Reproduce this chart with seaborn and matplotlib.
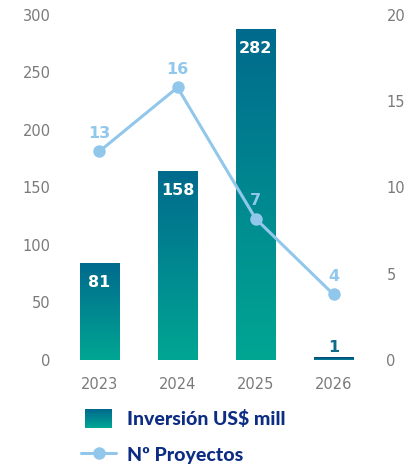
import numpy as np
import pandas as pd
import matplotlib
matplotlib.use('Agg')
import matplotlib.pyplot as plt
import seaborn as sns
from matplotlib.colors import LinearSegmentedColormap
from matplotlib.patches import Rectangle
from matplotlib.lines import Line2D
from matplotlib.legend_handler import HandlerBase

# Data (bar heights / marker heights as drawn in the picture, labels as printed)
years = ['2023', '2024', '2025', '2026']
inversion = [84.6, 164.3, 287.8, 2.3]
inversion_labels = ['81', '158', '282', '1']
proyectos = [12.1, 15.8, 8.2, 3.8]
proyectos_labels = ['13', '16', '7', '4']

sns.set_style('white')
plt.rcParams['font.family'] = ['Lato', 'DejaVu Sans']

tick_color = '#7a7a7a'
line_color = '#92c7ec'
navy = '#0d2d84'
grad = LinearSegmentedColormap.from_list('grad', ['#00a693', '#006a8d'])
grad_small = LinearSegmentedColormap.from_list('grad_small', ['#00859a', '#0b3f72'])
num_font = 'DejaVu Sans'

fig = plt.figure(figsize=(4.2, 4.65), dpi=100)
ax = fig.add_axes([0.144, 0.2258, 0.743, 0.742])

df = pd.DataFrame({'year': years, 'inversion': inversion})
sns.barplot(data=df, x='year', y='inversion', ax=ax, width=0.5, color='#00889a')

# Vertical gradient inside each bar
gradient = np.linspace(1, 0, 256).reshape(-1, 1)
for i, p in enumerate(ax.patches):
    x0, w, h = p.get_x(), p.get_width(), p.get_height()
    cmap = grad_small if h < 10 else grad
    im = ax.imshow(gradient, cmap=cmap, aspect='auto', extent=[x0, x0 + w, 0, h], zorder=2)
    im.set_clip_path(p)
    p.set_facecolor('none')

ax.set_xlim(-0.5, 3.5)
ax.set_ylim(0, 300)
ax.set_yticks([0, 50, 100, 150, 200, 250, 300])
ax.set_xlabel('')
ax.set_ylabel('')

for i, (h, lab) in enumerate(zip(inversion, inversion_labels)):
    if h > 20:
        ax.annotate(lab, (i, h), xytext=(0, -14), textcoords='offset points',
                    ha='center', va='center', color='white', fontsize=11.5,
                    fontweight='bold', family=num_font, zorder=5)
    else:
        ax.annotate(lab, (i, h), xytext=(0, 7), textcoords='offset points',
                    ha='center', va='center', color='#0f6b8a', fontsize=11.5,
                    fontweight='bold', family=num_font, zorder=5)

ax2 = ax.twinx()
xs = np.arange(len(years))
sns.lineplot(x=xs, y=proyectos, ax=ax2, color=line_color, linewidth=2.2,
             marker='o', markersize=9, markeredgewidth=0)
ax2.set_ylim(0, 20)
ax2.set_yticks([0, 5, 10, 15, 20])
ax2.set_ylabel('')
for i, (v, lab) in enumerate(zip(proyectos, proyectos_labels)):
    ax2.annotate(lab, (i, v), xytext=(0, 13), textcoords='offset points',
                 ha='center', va='center', color=line_color, fontsize=11.5,
                 fontweight='bold', family=num_font)

for a in (ax, ax2):
    for s in a.spines.values():
        s.set_visible(False)
    a.tick_params(length=0, labelsize=10.5, labelcolor=tick_color)
    a.grid(False)
    for t in a.get_xticklabels() + a.get_yticklabels():
        t.set_family(num_font)
ax.tick_params(axis='y', pad=7)
ax.tick_params(axis='x', pad=12)
ax2.tick_params(axis='y', pad=10)


class GradientHandler(HandlerBase):
    def create_artists(self, legend, orig_handle, xdescent, ydescent,
                       width, height, fontsize, trans):
        n = 40
        sq_w = width * 27 / 35
        x0 = -xdescent + (width - sq_w) / 2
        arts = []
        for k in range(n):
            r = Rectangle((x0, -ydescent + k * height / n), sq_w, height / n * 1.05,
                          facecolor=grad(k / (n - 1)), edgecolor='none', transform=trans)
            arts.append(r)
        return arts


bar_handle = Rectangle((0, 0), 1, 1)
line_handle = Line2D([], [], color=line_color, linewidth=2.2, marker='o',
                     markersize=9, markeredgewidth=0)
fig.legend([bar_handle, line_handle], ['Inversión US$ mill', 'Nº Proyectos'],
           handler_map={Rectangle: GradientHandler()},
           loc='upper left', bbox_to_anchor=(0.193, 0.12), frameon=False,
           borderpad=0, borderaxespad=0, handlelength=1.8, handleheight=1.13,
           handletextpad=0.55, labelspacing=0.85, labelcolor=navy,
           prop={'weight': 'black', 'size': 14})

fig.savefig('out.png', dpi=100)
